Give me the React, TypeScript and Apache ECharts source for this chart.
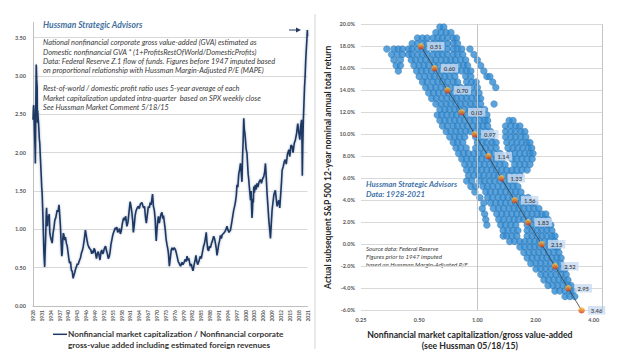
import React, { useEffect, useRef } from "react";
import * as echarts from "echarts";

// ---------- Left chart: Market cap / GVA ----------
const leftYears = [
  1928.0, 1928.2, 1928.35, 1928.5, 1928.7, 1928.8, 1928.95, 1929.1, 1929.25, 1929.4, 1929.5, 1929.6, 1929.7, 1929.85,
  1930.0, 1930.15, 1930.3, 1930.45, 1930.6, 1930.8, 1930.95, 1931.1, 1931.25, 1931.4, 1931.55, 1931.7, 1931.85, 1931.96,
  1932.1, 1932.3, 1932.5, 1932.6, 1932.75, 1932.9, 1933.1, 1933.3, 1933.5, 1933.7, 1933.95, 1934.2, 1934.5, 1934.8,
  1935.1, 1935.4, 1935.7, 1935.9, 1936.2, 1936.5, 1936.8, 1937.0, 1937.3, 1937.45, 1937.6, 1937.75, 1937.9, 1938.1,
  1938.3, 1938.5, 1938.7, 1939.0, 1939.3, 1939.6, 1939.9, 1940.2, 1940.4, 1940.7, 1941.0, 1941.3, 1941.6, 1941.85,
  1942.1, 1942.4, 1942.7, 1943.0, 1943.3, 1943.6, 1943.8, 1944.1, 1944.4, 1944.7, 1945.0, 1945.3, 1945.5, 1945.75,
  1946.0, 1946.3, 1946.6, 1946.9, 1947.2, 1947.6, 1947.9, 1948.2, 1948.4, 1948.7, 1949.0, 1949.3, 1949.5, 1949.8,
  1950.1, 1950.4, 1950.7, 1951.0, 1951.3, 1951.6, 1951.8, 1952.1, 1952.4, 1952.6, 1952.9, 1953.2, 1953.5, 1953.8,
  1954.1, 1954.4, 1954.7, 1955.0, 1955.3, 1955.6, 1955.9, 1956.2, 1956.4, 1956.7, 1957.0, 1957.3, 1957.6, 1957.9,
  1958.3, 1958.7, 1959.0, 1959.4, 1959.8, 1960.2, 1960.6, 1960.9, 1961.2, 1961.5, 1961.8, 1962.0, 1962.3, 1962.6,
  1962.9, 1963.3, 1963.7, 1964.0, 1964.4, 1964.9, 1965.2, 1965.5, 1965.8, 1966.0, 1966.2, 1966.4, 1966.7, 1967.1,
  1967.4, 1967.7, 1968.0, 1968.3, 1968.5, 1968.8, 1969.1, 1969.4, 1969.6, 1969.75, 1970.0, 1970.3, 1970.5, 1970.8,
  1971.1, 1971.4, 1971.7, 1972.0, 1972.2, 1972.5, 1972.8, 1973.1, 1973.4, 1973.7, 1973.9, 1974.2, 1974.5, 1974.8,
  1975.1, 1975.4, 1975.8, 1976.2, 1976.5, 1976.8, 1977.2, 1977.5, 1977.7, 1978.0, 1978.3, 1978.5, 1978.8, 1979.2,
  1979.6, 1979.9, 1980.2, 1980.5, 1980.8, 1981.0, 1981.3, 1981.6, 1981.9, 1982.2, 1982.5, 1982.8, 1983.0, 1983.2,
  1983.5, 1983.8, 1984.1, 1984.4, 1984.7, 1985.0, 1985.4, 1985.8, 1986.1, 1986.4, 1986.7, 1986.9, 1987.2, 1987.5,
  1987.8, 1988.1, 1988.5, 1988.8, 1989.2, 1989.5, 1989.8, 1990.1, 1990.34, 1990.6, 1990.9, 1991.2, 1991.5, 1991.8,
  1992.1, 1992.6, 1993.0, 1993.4, 1993.7, 1994.0, 1994.4, 1994.9, 1995.3, 1995.7, 1996.0, 1996.3, 1996.6, 1996.9,
  1997.1, 1997.4, 1997.7, 1998.0, 1998.3, 1998.55, 1998.8, 1999.0, 1999.2, 1999.4, 1999.6, 1999.8, 1999.96, 2000.2,
  2000.5, 2000.7, 2000.9, 2001.1, 2001.3, 2001.5, 2001.7, 2001.9, 2002.05, 2002.2, 2002.35, 2002.5, 2002.65, 2002.8,
  2003.0, 2003.3, 2003.6, 2003.9, 2004.2, 2004.6, 2005.05, 2005.4, 2005.8, 2006.2, 2006.5, 2006.75, 2007.0, 2007.3,
  2007.6, 2007.9, 2008.2, 2008.45, 2008.7, 2009.0, 2009.3, 2009.6, 2010.1, 2010.4, 2010.7, 2011.0, 2011.3, 2011.6,
  2011.9, 2012.2, 2012.4, 2012.8, 2013.1, 2013.5, 2013.8, 2014.2, 2014.7, 2015.0, 2015.4, 2015.8, 2016.1, 2016.5,
  2016.9, 2017.3, 2017.7, 2018.0, 2018.4, 2018.7, 2019.0, 2019.15, 2019.25, 2019.4, 2019.6, 2019.8, 2020.0, 2020.2,
  2020.4, 2020.6, 2020.8, 2020.95, 2021.0,
];
const leftValues = [
  2.43, 2.62, 2.55, 2.3, 2.05, 1.86, 2.6, 3.15, 2.95, 2.86, 2.39, 2.55, 2.47, 2.4,
  2.3, 2.18, 2.12, 1.98, 1.86, 1.69, 1.55, 1.47, 1.3, 1.12, 0.9, 0.69, 0.58, 0.51,
  0.7, 0.91, 1.21, 1.28, 1.1, 1.04, 1.18, 1.12, 1.2, 0.95, 0.9, 0.86, 0.82, 0.95,
  1.02, 1.12, 1.15, 1.19, 1.25, 1.23, 1.32, 1.22, 1.04, 0.9, 0.77, 0.65, 0.69, 0.88,
  0.95, 0.92, 0.86, 0.9, 0.82, 0.78, 0.69, 0.6, 0.56, 0.58, 0.47, 0.45, 0.36, 0.4,
  0.43, 0.48, 0.51, 0.55, 0.54, 0.58, 0.6, 0.63, 0.69, 0.72, 0.77, 0.85, 0.91, 0.99,
  0.93, 0.86, 0.8, 0.77, 0.75, 0.73, 0.68, 0.72, 0.69, 0.75, 0.73, 0.66, 0.62, 0.68,
  0.71, 0.66, 0.6, 0.7, 0.73, 0.68, 0.69, 0.74, 0.77, 0.78, 0.72, 0.68, 0.62, 0.64,
  0.7, 0.8, 0.86, 0.92, 0.96, 0.99, 1.02, 1.0, 1.03, 0.96, 0.98, 1.01, 0.94, 0.98,
  1.08, 1.15, 1.12, 1.17, 1.04, 1.1, 1.25, 1.36, 1.3, 1.22, 1.1, 0.96, 1.05, 1.18,
  1.24, 1.28, 1.3, 1.27, 1.33, 1.35, 1.31, 1.28, 1.3, 1.2, 1.13, 1.08, 1.18, 1.3,
  1.28, 1.35, 1.32, 1.4, 1.46, 1.3, 1.25, 1.13, 0.95, 0.85, 1.0, 1.12, 1.17, 1.08,
  1.15, 1.2, 1.22, 1.14, 1.18, 1.09, 1.0, 0.87, 0.8, 0.74, 0.68, 0.52, 0.62, 0.72,
  0.76, 0.73, 0.76, 0.74, 0.7, 0.65, 0.58, 0.56, 0.54, 0.52, 0.55, 0.57, 0.54, 0.57,
  0.61, 0.58, 0.65, 0.6, 0.62, 0.58, 0.52, 0.55, 0.5, 0.46, 0.52, 0.58, 0.61, 0.66,
  0.58, 0.54, 0.57, 0.61, 0.65, 0.62, 0.7, 0.78, 0.82, 0.88, 0.96, 0.85, 0.74, 0.72,
  0.78, 0.76, 0.82, 0.85, 0.91, 0.88, 0.82, 0.75, 0.66, 0.72, 0.8, 0.85, 0.92, 0.88,
  0.93, 0.95, 0.97, 1.0, 1.04, 1.0, 0.96, 0.99, 1.08, 1.18, 1.25, 1.3, 1.36, 1.45,
  1.58, 1.55, 1.72, 1.78, 1.86, 1.75, 1.62, 1.95, 2.15, 2.45, 2.3, 2.25, 2.18, 2.05,
  1.99, 1.85, 1.72, 1.65, 1.55, 1.47, 1.38, 1.5, 1.3, 1.15, 1.25, 1.4, 1.35, 1.56,
  1.48, 1.58, 1.52, 1.6, 1.55, 1.62, 1.65, 1.6, 1.66, 1.69, 1.75, 1.86, 1.7, 1.47,
  1.3, 1.12, 1.0, 0.88, 1.05, 1.25, 1.35, 1.45, 1.51, 1.4, 1.3, 1.35, 1.38, 1.28,
  1.45, 1.62, 1.77, 1.82, 1.88, 1.91, 1.85, 1.98, 2.04, 1.95, 2.1, 2.08, 2.0, 2.12,
  2.17, 2.25, 2.38, 2.28, 2.17, 2.35, 2.43, 2.1, 1.7, 2.1, 2.43, 2.65, 2.86, 3.0,
  3.21, 3.35, 3.48, 3.6, 3.52,
];

const leftNotes = [
  "National nonfinancial corporate gross value-added (GVA) estimated as",
  "Domestic nonfinancial GVA * (1+ProfitsRestOfWorld/DomesticProfits)",
  "Data: Federal Reserve Z.1 flow of funds. Figures before 1947 imputed based",
  "on proportional relationship with Hussman Margin-Adjusted P/E (MAPE)",
  "",
  "Rest-of-world / domestic profit ratio uses 5-year average of each",
  "Market capitalization updated intra-quarter  based on SPX weekly close",
  "See Hussman Market Comment 5/18/15",
];
const leftSeriesName =
  "Nonfinancial market capitalization / Nonfinancial corporate\ngross-value added including estimated foreign revenues";

// ---------- Right chart: valuation vs subsequent 12-yr return ----------
const fitX = [0.51, 0.6, 0.7, 0.83, 0.97, 1.14, 1.33, 1.56, 1.83, 2.15, 2.52, 2.95, 3.46];
const fitY = [18, 16, 14, 12, 10, 8, 6, 4, 2, 0, -2, -4, -6];

// each row: [return %, list of market cap / GVA values observed at that return]
const cloudRows: [number, number[]][] = [
  [19.75, [0.64, 0.67]],
  [19.25, [0.61, 0.65, 0.69, 0.73]],
  [18.75, [0.49, 0.52, 0.55, 0.59, 0.625, 0.66, 0.7, 0.75, 0.78]],
  [18.25, [0.46, 0.49, 0.52, 0.55, 0.59, 0.625, 0.66, 0.7, 0.75, 0.79]],
  [17.75, [0.34, 0.37, 0.39, 0.41, 0.44, 0.46, 0.49, 0.52, 0.55, 0.59, 0.625, 0.66, 0.7, 0.75, 0.79, 0.83, 0.915]],
  [17.25, [0.36, 0.385, 0.41, 0.44, 0.46, 0.49, 0.52, 0.55, 0.59, 0.625, 0.66, 0.7, 0.75, 0.79, 0.84, 0.96]],
  [16.75, [0.37, 0.4, 0.455, 0.48, 0.51, 0.54, 0.575, 0.61, 0.65, 0.69, 0.73, 0.77, 0.82, 0.87, 1.0]],
  [16.25, [0.38, 0.4, 0.47, 0.5, 0.53, 0.56, 0.6, 0.63, 0.67, 0.71, 0.755, 0.8, 0.85, 0.89, 1.04]],
  [15.75, [0.39, 0.485, 0.515, 0.545, 0.58, 0.615, 0.655, 0.69, 0.735, 0.78, 0.83, 0.88, 0.925, 1.08]],
  [15.25, [0.5, 0.535, 0.57, 0.6, 0.64, 0.68, 0.72, 0.765, 0.87, 0.925, 1.12, 1.16]],
  [14.75, [0.52, 0.55, 0.59, 0.625, 0.66, 0.7, 0.75, 0.79, 0.88, 0.935, 0.985, 1.2]],
  [14.25, [0.54, 0.575, 0.61, 0.65, 0.69, 0.73, 0.775, 0.82, 0.88, 0.935, 1.0, 1.245]],
  [13.75, [0.56, 0.595, 0.63, 0.67, 0.71, 0.755, 0.8, 0.85, 0.9, 0.96, 1.02]],
  [13.25, [0.58, 0.615, 0.655, 0.695, 0.74, 0.78, 0.83, 0.88, 0.935, 0.995, 1.04]],
  [12.75, [0.61, 0.65, 0.69, 0.73, 0.775, 0.82, 0.87, 0.925, 0.98, 1.04, 1.22]],
  [12.25, [0.64, 0.68, 0.72, 0.765, 0.81, 0.86, 0.915, 0.97, 1.03, 1.09]],
  [11.75, [0.62, 0.655, 0.695, 0.74, 0.78, 0.83, 0.88, 0.935, 0.995, 1.055, 1.12]],
  [11.25, [0.64, 0.68, 0.72, 0.765, 0.81, 0.86, 0.915, 0.97, 1.03, 1.09, 1.13, 1.46, 1.53]],
  [10.75, [0.66, 0.7, 0.75, 0.79, 0.84, 0.89, 0.95, 1.01, 1.07, 1.13, 1.4, 1.49, 1.58, 1.66]],
  [10.25, [0.69, 0.73, 0.775, 0.82, 0.87, 0.925, 0.98, 1.04, 1.105, 1.17, 1.4, 1.49, 1.58, 1.68, 1.76]],
  [9.75, [0.72, 0.765, 0.81, 0.86, 0.98, 1.04, 1.105, 1.19, 1.4, 1.49, 1.58, 1.68, 1.78]],
  [9.25, [0.75, 0.79, 0.84, 1.0, 1.06, 1.12, 1.19, 1.25, 1.42, 1.51, 1.6, 1.7, 1.8, 1.87]],
  [8.75, [0.775, 0.82, 0.875, 0.98, 1.04, 1.105, 1.175, 1.25, 1.44, 1.53, 1.62, 1.72, 1.83, 1.91]],
  [8.25, [0.8, 0.85, 0.9, 0.96, 1.02, 1.08, 1.15, 1.22, 1.31, 1.47, 1.56, 1.66, 1.76, 1.87, 1.94]],
  [7.75, [0.83, 0.88, 0.935, 0.995, 1.055, 1.12, 1.19, 1.26, 1.34, 1.51, 1.6, 1.7, 1.81, 1.92]],
  [7.25, [0.86, 0.915, 0.97, 1.03, 1.09, 1.16, 1.23, 1.31, 1.39, 1.56, 1.66, 1.76, 1.87]],
  [6.75, [0.88, 0.935, 0.995, 1.055, 1.12, 1.19, 1.26, 1.34, 1.42, 1.51, 1.6, 1.7, 1.81]],
  [6.25, [0.9, 0.96, 1.02, 1.08, 1.15, 1.22, 1.29, 1.37, 1.46, 1.55, 1.66]],
  [5.75, [0.88, 0.935, 1.03, 1.09, 1.16, 1.23, 1.31, 1.39, 1.47, 1.56]],
  [5.25, [0.925, 0.98, 1.07, 1.13, 1.2, 1.28, 1.36, 1.44, 1.53, 1.62]],
  [4.75, [0.97, 1.105, 1.17, 1.245, 1.32, 1.4, 1.49, 1.58, 1.68]],
  [4.25, [1.03, 1.13, 1.2, 1.28, 1.36, 1.44, 1.53, 1.62, 1.72, 1.83]],
  [3.75, [1.08, 1.17, 1.245, 1.32, 1.4, 1.49, 1.58, 1.68, 1.78, 1.89, 1.98]],
  [3.25, [1.06, 1.21, 1.29, 1.37, 1.46, 1.55, 1.64, 1.74, 1.85, 1.96, 2.08]],
  [2.75, [1.09, 1.26, 1.34, 1.42, 1.51, 1.6, 1.7, 1.81, 1.92, 2.04, 2.16, 2.26]],
  [2.25, [1.105, 1.29, 1.37, 1.46, 1.55, 1.64, 1.74, 1.85, 1.96, 2.08, 2.21, 2.32]],
  [1.75, [1.12, 1.32, 1.4, 1.49, 1.58, 1.81, 1.92, 2.04, 2.16, 2.29, 2.4]],
  [1.25, [1.36, 1.44, 1.53, 1.62, 1.81, 1.92, 2.04, 2.16, 2.29, 2.43]],
  [0.75, [1.36, 1.42, 1.51, 1.6, 1.81, 1.92, 2.04, 2.16, 2.29, 2.43, 2.52]],
  [0.25, [1.47, 1.56, 1.66, 1.76, 1.87, 1.98, 2.1, 2.23, 2.37, 2.52]],
  [-0.25, [1.66, 1.76, 1.87, 1.98, 2.1, 2.23, 2.37, 2.52, 2.61]],
  [-0.75, [1.74, 1.85, 1.96, 2.08, 2.21, 2.34, 2.49, 2.64]],
  [-1.25, [1.81, 1.92, 2.04, 2.16, 2.29, 2.43, 2.58, 2.71]],
  [-1.75, [1.89, 2.01, 2.13, 2.26, 2.4, 2.55, 2.71]],
  [-2.25, [2.01, 2.13, 2.26, 2.4, 2.55, 2.71, 2.84]],
  [-2.75, [2.13, 2.26, 2.4, 2.55, 2.71, 2.88]],
  [-3.25, [2.21, 2.34, 2.49, 2.64, 2.8, 2.94]],
  [-3.75, [2.32, 2.46, 2.61, 2.77, 2.94, 3.05]],
  [-4.25, [2.52, 2.67, 2.84, 3.01, 3.12]],
  [-4.75, [2.84, 3.01, 3.19]],
];

const rightNote = ["Hussman Strategic Advisors", "Data: 1928-2021"];
const sourceNote = [
  "Source data: Federal Reserve",
  "Figures prior to 1947 imputed",
  "based on Hussman Margin-Adjusted P/E",
];

const FONT = "Lato, 'Open Sans', sans-serif";

export default function App() {
  const ref = useRef<HTMLDivElement>(null);

  useEffect(() => {
    if (!ref.current) return;
    const chart = echarts.init(ref.current, undefined, { renderer: "svg" });

    const leftData = leftYears.map((y, i) => [y, leftValues[i]]);
    const cloudData: number[][] = [];
    cloudRows.forEach(([ret, xs]) => xs.forEach((x) => cloudData.push([x, ret])));
    const fitData = fitX.map((x, i) => [x, fitY[i]]);

    const noteTexts: any[] = [];
    noteTexts.push({
      type: "text",
      style: {
        text: "Hussman Strategic Advisors",
        x: 43,
        y: 24.7,
        font: `italic bold 8.5px ${FONT}`,
        fill: "#44709e",
        textVerticalAlign: "middle",
      },
    });
    const noteYs = [42.3, 52, 61.3, 70.7, 0, 88.7, 98.3, 107.7];
    leftNotes.forEach((t, i) => {
      if (!t) return;
      noteTexts.push({
        type: "text",
        style: {
          text: t,
          x: 43,
          y: noteYs[i],
          font: `italic 7.4px ${FONT}`,
          fill: "#3a3a3a",
          textVerticalAlign: "middle",
        },
      });
    });
    rightNote.forEach((t, i) => {
      noteTexts.push({
        type: "text",
        style: {
          text: t,
          x: 366,
          y: 184 + i * 10,
          font: `italic bold 7.8px ${FONT}`,
          fill: "#3f72a8",
          textVerticalAlign: "middle",
        },
      });
    });
    sourceNote.forEach((t, i) => {
      noteTexts.push({
        type: "text",
        style: {
          text: t,
          x: 366,
          y: 248 + i * 8,
          font: `italic 6.1px ${FONT}`,
          fill: "#404040",
          textVerticalAlign: "middle",
        },
      });
    });

    const option: any = {
      animation: false,
      backgroundColor: "#ffffff",
      textStyle: { fontFamily: FONT },
      grid: [
        { left: 33, right: 311.5, top: 22.4, bottom: 53 },
        { left: 361, right: 16.3, top: 24.3, bottom: 48.7 },
      ],
      xAxis: [
        {
          type: "value",
          gridIndex: 0,
          min: 1928,
          max: 2021,
          interval: 3,
          axisLine: { show: true, lineStyle: { color: "#bfbfbf" } },
          axisTick: { show: false },
          splitLine: { show: false },
          axisLabel: {
            rotate: 90,
            fontSize: 5,
            fontWeight: "bold",
            color: "#595959",
            margin: 4,
            formatter: (v: number) => String(Math.round(v)),
          },
        },
        {
          type: "log",
          logBase: 2,
          gridIndex: 1,
          min: 0.25,
          max: 4.45,
          axisLine: { show: false },
          axisTick: { show: false },
          splitLine: { show: false },
          axisLabel: {
            fontSize: 5.5,
            fontWeight: "bold",
            color: "#595959",
            margin: 7,
            showMaxLabel: false,
            formatter: (v: number) => v.toFixed(2),
          },
          name: "Nonfinancial market capitalization/gross value-added\n(see Hussman 05/18/15)",
          nameLocation: "middle",
          nameGap: 18,
          nameTextStyle: {
            fontSize: 8.7,
            fontWeight: "bold",
            color: "#262626",
            lineHeight: 11.5,
            padding: [0, 24, 0, 0],
          },
        },
      ],
      yAxis: [
        {
          type: "value",
          gridIndex: 0,
          min: 0,
          max: 3.7,
          interval: 0.5,
          axisLine: { show: true, lineStyle: { color: "#bfbfbf" } },
          axisTick: { show: false },
          splitLine: { show: true, showMaxLine: false, lineStyle: { color: "#d9d9d9" } },
          axisLabel: {
            fontSize: 5.5,
            fontWeight: "bold",
            color: "#595959",
            margin: 7,
            showMaxLabel: false,
            formatter: (v: number) => (Math.abs(v - Math.round(v * 2) / 2) < 1e-6 ? v.toFixed(2) : ""),
          },
        },
        {
          type: "value",
          gridIndex: 1,
          min: -6,
          max: 20,
          interval: 2,
          axisLine: { show: false },
          axisTick: { show: false },
          splitLine: { show: true, lineStyle: { color: "#d9d9d9" } },
          axisLabel: {
            fontSize: 5.5,
            fontWeight: "bold",
            color: "#595959",
            margin: 6,
            formatter: (v: number) => v.toFixed(1) + "%",
          },
          name: "Actual subsequent S&P 500 12-year nominal annual total return",
          nameLocation: "middle",
          nameGap: 29,
          nameRotate: 90,
          nameTextStyle: { fontSize: 8.6, fontWeight: "bold", color: "#262626" },
        },
      ],
      series: [
        {
          name: leftSeriesName,
          type: "line",
          xAxisIndex: 0,
          yAxisIndex: 0,
          data: leftData,
          symbol: "none",
          clip: false,
          lineStyle: {
            color: "#1f3864",
            width: 1.6,
            shadowColor: "rgba(31,56,100,0.35)",
            shadowBlur: 2,
          },
        },
        {
          name: "Observations",
          type: "scatter",
          xAxisIndex: 1,
          yAxisIndex: 1,
          data: cloudData,
          symbol: "circle",
          symbolSize: 7,
          z: 2,
          itemStyle: {
            color: "#2f8bd3",
            borderColor: "rgba(38,62,92,0.5)",
            borderWidth: 0.4,
          },
          markLine: {
            silent: true,
            symbol: ["none", "none"],
            label: { show: false },
            lineStyle: { color: "#c4c4c4", type: "solid", width: 1 },
            data: [{ xAxis: 1 }, { xAxis: 4.45 }],
          },
        },
        {
          name: "Fit",
          type: "line",
          xAxisIndex: 1,
          yAxisIndex: 1,
          data: fitData,
          symbol: "none",
          z: 3,
          lineStyle: { color: "#3a3a3a", width: 0.8 },
        },
        {
          name: "Fitted",
          type: "scatter",
          xAxisIndex: 1,
          yAxisIndex: 1,
          data: fitData,
          symbol: "circle",
          symbolSize: 6.5,
          z: 4,
          itemStyle: {
            color: new echarts.graphic.LinearGradient(0, 0, 0, 1, [
              { offset: 0, color: "#ffd25a" },
              { offset: 0.45, color: "#f28a22" },
              { offset: 1, color: "#d0260f" },
            ]),
          },
          label: {
            show: true,
            position: "right",
            distance: 3,
            formatter: (p: any) => p.value[0].toFixed(2),
            backgroundColor: "#c8dbf1",
            padding: [1.5, 3, 1, 3],
            fontSize: 5.8,
            fontWeight: "bold",
            color: "#2b2b2b",
          },
        },
      ],
      graphic: [
        ...noteTexts,
        // legend of the left chart
        {
          type: "line",
          shape: { x1: 53, y1: 334.3, x2: 67, y2: 334.3 },
          style: { stroke: "#1f3864", lineWidth: 1.5 },
        },
        {
          type: "text",
          style: {
            text: leftSeriesName,
            x: 68,
            y: 328.8,
            font: `bold 8.2px ${FONT}`,
            fill: "#333333",
            lineHeight: 11,
            textVerticalAlign: "top",
          },
        },
        // arrow pointing at the latest value
        {
          type: "line",
          shape: { x1: 289, y1: 30, x2: 299, y2: 30 },
          style: { stroke: "#1f3864", lineWidth: 1 },
        },
        {
          type: "polygon",
          shape: { points: [[296, 27.6], [301, 30], [296, 32.4]] },
          style: { fill: "#1f3864" },
        },
        // frame of the right panel
        {
          type: "line",
          shape: { x1: 315, y1: 14, x2: 315, y2: 349 },
          style: { stroke: "#d4d4d4", lineWidth: 1 },
        },
      ],
    };

    chart.setOption(option);
    return () => chart.dispose();
  }, []);

  return (
    <div
      ref={ref}
      style={{ position: "fixed", left: 0, top: 0, width: 619, height: 359, background: "#fff" }}
    />
  );
}
